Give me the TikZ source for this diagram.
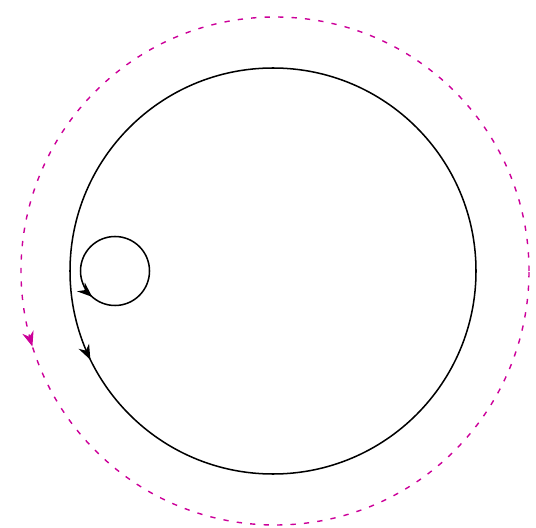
\documentclass[tikz,border=0pt]{standalone}
\usepackage{tikz,xcolor}
\usetikzlibrary{decorations.markings,arrows.meta}
\definecolor{orbitmag}{RGB}{204,0,153}
\tikzset{
 midarrow/.style={postaction={decorate},decoration={markings,mark=at position #1 with {\arrow{Stealth[length=4.5mm,width=3.5mm]}}}},
 orbit/.style={line width=1.3pt,black},
 outerorbit/.style={line width=1.2pt,orbitmag,dash pattern=on 4.5pt off 7pt}
}
\begin{document}
\begin{tikzpicture}[x=0.03cm,y=0.03cm]
 \useasboundingbox (0,0) rectangle (536,527);
 \coordinate (O) at (273,256); \coordinate (P) at (275,256); \coordinate (S) at (115,256);
 \draw[outerorbit,midarrow=0.548] (P) circle (254);
 \draw[orbit,midarrow=0.572] (O) circle (203);
 \draw[orbit,midarrow=0.635] (S) circle (34.5);
\end{tikzpicture}
\end{document}
